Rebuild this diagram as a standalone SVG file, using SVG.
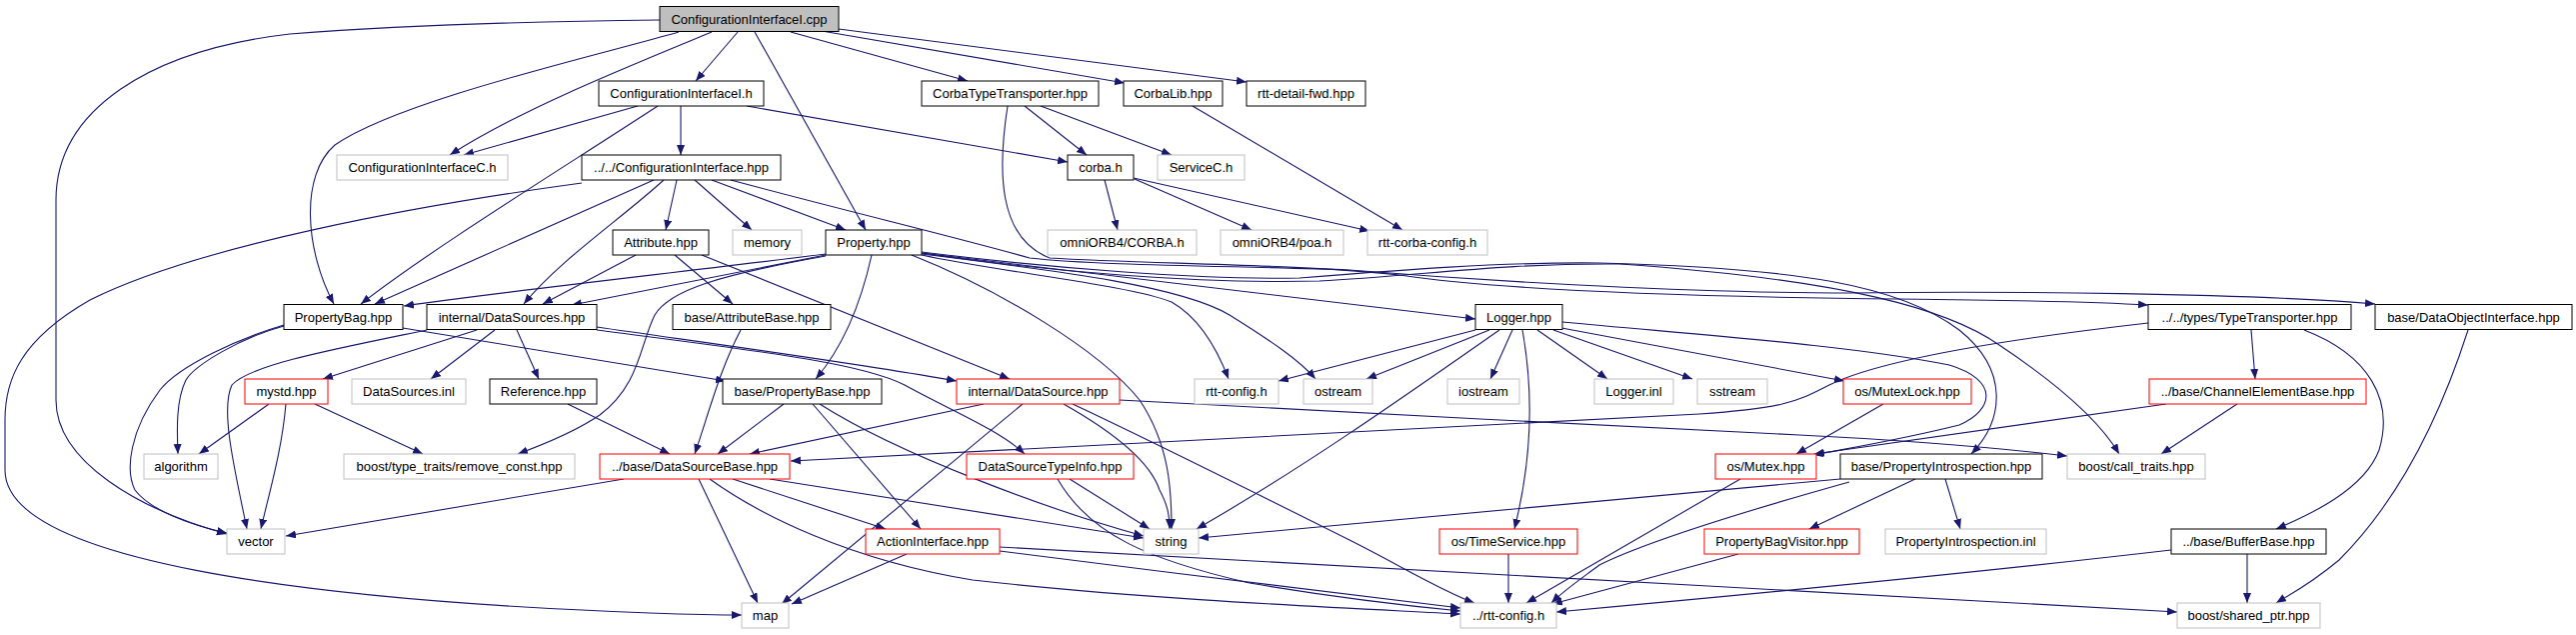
<svg xmlns="http://www.w3.org/2000/svg" width="2577" height="635" viewBox="0 0 2577 635">
<style>
rect{fill:#fff;stroke-width:1}
.n{stroke:#000}
.g{stroke:#bfbfbf}
.r{stroke:#ff0000}
.root{fill:#bfbfbf;stroke:#000}
text{font-family:"Liberation Sans",Arial,Helvetica,sans-serif;font-size:13px;fill:#000;text-anchor:middle}
.e{fill:none;stroke:#191970;stroke-width:1.1}
</style>
<defs>
<marker id="a" markerUnits="userSpaceOnUse" markerWidth="11" markerHeight="9" refX="10" refY="4" orient="auto">
<path d="M0,0 L10,4 L0,8 z" fill="#191970"/>
</marker>
</defs>
<g id="edges" marker-end="url(#a)">
<path class="e" marker-end="url(#a)" d="M660,20 C560,21 420,24 290,34 C150,50 56,110 56,200 L56,400 C56,462 140,510 227,534"/>
<path class="e" marker-end="url(#a)" d="M679,32 C600,55 400,100 335,145 C300,175 305,250 334,304"/>
<path class="e" marker-end="url(#a)" d="M712,32 C620,70 520,110 450,155"/>
<path class="e" marker-end="url(#a)" d="M738,32 L696,81"/>
<path class="e" marker-end="url(#a)" d="M755,32 L866,230"/>
<path class="e" marker-end="url(#a)" d="M791,32 L968,81"/>
<path class="e" marker-end="url(#a)" d="M822,31 L1125,83"/>
<path class="e" marker-end="url(#a)" d="M839,29 L1247,82"/>
<path class="e" marker-end="url(#a)" d="M638,106 L464,155"/>
<path class="e" marker-end="url(#a)" d="M658,106 C560,170 430,250 361,304"/>
<path class="e" marker-end="url(#a)" d="M681,106 L681,155"/>
<path class="e" marker-end="url(#a)" d="M747,106 L1068,162"/>
<path class="e" marker-end="url(#a)" d="M1025,106 L1087,155"/>
<path class="e" marker-end="url(#a)" d="M1041,106 L1172,155"/>
<path class="e" marker-end="url(#a)" d="M1008,106 C998,170 998,238 1050,258 C1150,264 1300,264 1400,275 C1500,290 1700,297 1900,299 C2000,300 2100,302 2149,305"/>
<path class="e" marker-end="url(#a)" d="M1193,106 L1403,230"/>
<path class="e" marker-end="url(#a)" d="M1105,180 L1118,230"/>
<path class="e" marker-end="url(#a)" d="M1135,179 L1252,230"/>
<path class="e" marker-end="url(#a)" d="M1134,178 L1370,231"/>
<path class="e" marker-end="url(#a)" d="M677,180 L666,230"/>
<path class="e" marker-end="url(#a)" d="M695,180 L752,230"/>
<path class="e" marker-end="url(#a)" d="M712,180 L846,230"/>
<path class="e" marker-end="url(#a)" d="M654,180 L375,304"/>
<path class="e" marker-end="url(#a)" d="M664,180 C620,220 560,260 524,304"/>
<path class="e" marker-end="url(#a)" d="M582,183 C420,205 200,245 90,300 C20,340 5,380 5,420 L5,470 C5,560 300,600 650,613 C680,614 710,615 742,615"/>
<path class="e" marker-end="url(#a)" d="M731,180 C850,212 960,238 1030,258 C1100,266 1250,266 1350,270 C1500,282 1700,293 1850,293 C2000,291 2250,293 2376,304"/>
<path class="e" marker-end="url(#a)" d="M636,255 L543,304"/>
<path class="e" marker-end="url(#a)" d="M675,255 L733,304"/>
<path class="e" marker-end="url(#a)" d="M702,255 L1010,379"/>
<path class="e" marker-end="url(#a)" d="M826,254 C700,270 500,292 404,306"/>
<path class="e" marker-end="url(#a)" d="M826,255 L572,305"/>
<path class="e" marker-end="url(#a)" d="M826,256 C720,275 670,290 655,315 C640,345 640,385 600,415 C575,432 545,444 518,454"/>
<path class="e" marker-end="url(#a)" d="M872,255 C862,300 845,345 816,379"/>
<path class="e" marker-end="url(#a)" d="M912,255 C1000,290 1100,350 1140,400 C1170,445 1172,490 1172,529"/>
<path class="e" marker-end="url(#a)" d="M922,255 C1000,272 1130,285 1172,302 C1200,318 1218,350 1229,379"/>
<path class="e" marker-end="url(#a)" d="M922,254 C1050,270 1180,285 1230,315 C1270,340 1300,360 1316,379"/>
<path class="e" marker-end="url(#a)" d="M922,253 L1476,319"/>
<path class="e" marker-end="url(#a)" d="M922,252 C1050,268 1200,280 1300,278 C1400,270 1500,262 1600,263 C1800,268 1900,285 1960,330 C2010,370 2005,420 1972,454"/>
<path class="e" marker-end="url(#a)" d="M922,253 C1050,272 1200,284 1320,281 C1420,276 1500,263 1620,264 C1850,280 1950,310 2000,345 C2060,385 2100,420 2120,454"/>
<path class="e" marker-end="url(#a)" d="M284,326 C240,338 195,365 186,380 C176,400 177,430 178,454"/>
<path class="e" marker-end="url(#a)" d="M284,325 C240,338 180,365 160,390 C130,430 125,470 135,490 C150,510 190,525 227,533"/>
<path class="e" marker-end="url(#a)" d="M403,328 L726,381"/>
<path class="e" marker-end="url(#a)" d="M427,330 C330,350 250,365 232,385 C220,410 235,470 247,529"/>
<path class="e" marker-end="url(#a)" d="M477,330 L323,379"/>
<path class="e" marker-end="url(#a)" d="M495,330 L431,379"/>
<path class="e" marker-end="url(#a)" d="M517,330 L539,379"/>
<path class="e" marker-end="url(#a)" d="M597,327 C700,342 850,362 957,381"/>
<path class="e" marker-end="url(#a)" d="M597,330 C750,350 860,362 905,385 C950,410 1000,430 1025,454"/>
<path class="e" marker-end="url(#a)" d="M741,330 C720,370 710,410 695,454"/>
<path class="e" marker-end="url(#a)" d="M269,404 L199,454"/>
<path class="e" marker-end="url(#a)" d="M286,404 C282,450 270,490 261,529"/>
<path class="e" marker-end="url(#a)" d="M315,404 L423,454"/>
<path class="e" marker-end="url(#a)" d="M568,404 L670,454"/>
<path class="e" marker-end="url(#a)" d="M784,404 L718,454"/>
<path class="e" marker-end="url(#a)" d="M813,404 L921,529"/>
<path class="e" marker-end="url(#a)" d="M820,404 C900,455 1050,510 1144,536"/>
<path class="e" marker-end="url(#a)" d="M984,404 L750,454"/>
<path class="e" marker-end="url(#a)" d="M1023,404 L782,604"/>
<path class="e" marker-end="url(#a)" d="M1064,404 C1110,430 1150,460 1160,490 C1168,505 1170,515 1170,529"/>
<path class="e" marker-end="url(#a)" d="M1073,404 C1150,440 1250,490 1350,540 C1400,565 1440,590 1475,603"/>
<path class="e" marker-end="url(#a)" d="M1120,400 C1300,410 1600,425 1800,435 C1900,440 2000,448 2068,456"/>
<path class="e" marker-end="url(#a)" d="M1070,479 L1150,529"/>
<path class="e" marker-end="url(#a)" d="M1058,479 C1090,535 1150,560 1250,583 C1350,600 1420,607 1461,611"/>
<path class="e" marker-end="url(#a)" d="M624,479 L286,536"/>
<path class="e" marker-end="url(#a)" d="M699,479 L758,603"/>
<path class="e" marker-end="url(#a)" d="M770,479 L1144,538"/>
<path class="e" marker-end="url(#a)" d="M733,479 L886,529"/>
<path class="e" marker-end="url(#a)" d="M710,479 C760,515 850,560 973,580 C1150,600 1350,608 1461,614"/>
<path class="e" marker-end="url(#a)" d="M907,554 L792,604"/>
<path class="e" marker-end="url(#a)" d="M1000,551 C1150,570 1350,595 1461,608"/>
<path class="e" marker-end="url(#a)" d="M1000,547 C1300,565 1800,590 2178,612"/>
<path class="e" marker-end="url(#a)" d="M1476,330 L1279,381"/>
<path class="e" marker-end="url(#a)" d="M1490,330 L1367,379"/>
<path class="e" marker-end="url(#a)" d="M1513,330 L1491,379"/>
<path class="e" marker-end="url(#a)" d="M1538,330 L1608,379"/>
<path class="e" marker-end="url(#a)" d="M1554,330 L1693,379"/>
<path class="e" marker-end="url(#a)" d="M1500,330 C1400,400 1300,470 1197,529"/>
<path class="e" marker-end="url(#a)" d="M1523,330 C1532,380 1535,450 1515,529"/>
<path class="e" marker-end="url(#a)" d="M1557,327 L1845,381"/>
<path class="e" marker-end="url(#a)" d="M1563,322 C1700,335 1850,345 1950,365 C2000,380 1995,410 1960,425 C1900,440 1850,448 1814,455"/>
<path class="e" marker-end="url(#a)" d="M1884,404 L1797,454"/>
<path class="e" marker-end="url(#a)" d="M2149,323 C2000,340 1880,360 1830,385 C1800,400 1790,408 1700,414 C1500,425 1100,445 791,461"/>
<path class="e" marker-end="url(#a)" d="M2252,330 L2256,379"/>
<path class="e" marker-end="url(#a)" d="M2305,330 C2370,355 2395,400 2380,450 C2365,490 2310,515 2277,529"/>
<path class="e" marker-end="url(#a)" d="M2167,404 L1815,454"/>
<path class="e" marker-end="url(#a)" d="M2238,404 L2162,454"/>
<path class="e" marker-end="url(#a)" d="M1841,479 L1199,538"/>
<path class="e" marker-end="url(#a)" d="M1850,482 C1750,510 1650,540 1600,565 C1580,580 1565,590 1552,603"/>
<path class="e" marker-end="url(#a)" d="M1916,479 L1810,529"/>
<path class="e" marker-end="url(#a)" d="M1946,479 L1961,529"/>
<path class="e" marker-end="url(#a)" d="M1741,479 L1527,603"/>
<path class="e" marker-end="url(#a)" d="M1739,554 L1553,604"/>
<path class="e" marker-end="url(#a)" d="M1509,554 L1509,603"/>
<path class="e" marker-end="url(#a)" d="M2172,550 C2000,570 1800,590 1557,612"/>
<path class="e" marker-end="url(#a)" d="M2248,554 L2248,603"/>
<path class="e" marker-end="url(#a)" d="M2469,330 C2440,420 2400,500 2340,560 C2310,585 2290,595 2277,603"/>
</g>
<g id="n1"><rect class="root" x="660" y="6.5" width="179" height="25"/><text x="749.5" y="23.5">ConfigurationInterfaceI.cpp</text></g>
<g id="n2"><rect class="n" x="599" y="81" width="165" height="25"/><text x="681.5" y="98">ConfigurationInterfaceI.h</text></g>
<g id="n3"><rect class="n" x="922" y="81" width="177" height="25"/><text x="1010.5" y="98">CorbaTypeTransporter.hpp</text></g>
<g id="n4"><rect class="n" x="1124" y="81" width="99" height="25"/><text x="1173.5" y="98">CorbaLib.hpp</text></g>
<g id="n5"><rect class="n" x="1247" y="81" width="119" height="25"/><text x="1306.5" y="98">rtt-detail-fwd.hpp</text></g>
<g id="n6"><rect class="g" x="337" y="155" width="171" height="25"/><text x="422.5" y="172">ConfigurationInterfaceC.h</text></g>
<g id="n7"><rect class="n" x="582" y="155" width="199" height="25"/><text x="681.5" y="172">../../ConfigurationInterface.hpp</text></g>
<g id="n8"><rect class="n" x="1068" y="155" width="66" height="25"/><text x="1101" y="172">corba.h</text></g>
<g id="n9"><rect class="g" x="1158" y="155" width="87" height="25"/><text x="1201.5" y="172">ServiceC.h</text></g>
<g id="n10"><rect class="n" x="613" y="230" width="96" height="25"/><text x="661" y="247">Attribute.hpp</text></g>
<g id="n11"><rect class="g" x="733" y="230" width="69" height="25"/><text x="767.5" y="247">memory</text></g>
<g id="n12"><rect class="n" x="826" y="230" width="96" height="25"/><text x="874" y="247">Property.hpp</text></g>
<g id="n13"><rect class="g" x="1048" y="230" width="149" height="25"/><text x="1122.5" y="247">omniORB4/CORBA.h</text></g>
<g id="n14"><rect class="g" x="1221" y="230" width="123" height="25"/><text x="1282.5" y="247">omniORB4/poa.h</text></g>
<g id="n15"><rect class="g" x="1368" y="230" width="120" height="25"/><text x="1428" y="247">rtt-corba-config.h</text></g>
<g id="n16"><rect class="n" x="284" y="304.5" width="119" height="25"/><text x="343.5" y="321.5">PropertyBag.hpp</text></g>
<g id="n17"><rect class="n" x="427" y="304.5" width="170" height="25"/><text x="512" y="321.5">internal/DataSources.hpp</text></g>
<g id="n18"><rect class="n" x="673" y="304.5" width="158" height="25"/><text x="752" y="321.5">base/AttributeBase.hpp</text></g>
<g id="n19"><rect class="n" x="1476" y="304.5" width="87" height="25"/><text x="1519.5" y="321.5">Logger.hpp</text></g>
<g id="n20"><rect class="n" x="2149" y="304.5" width="203" height="25"/><text x="2250.5" y="321.5">../../types/TypeTransporter.hpp</text></g>
<g id="n21"><rect class="n" x="2376" y="304.5" width="197" height="25"/><text x="2474.5" y="321.5">base/DataObjectInterface.hpp</text></g>
<g id="n22"><rect class="r" x="245" y="379" width="83" height="25"/><text x="286.5" y="396">mystd.hpp</text></g>
<g id="n23"><rect class="g" x="352" y="379" width="114" height="25"/><text x="409" y="396">DataSources.inl</text></g>
<g id="n24"><rect class="n" x="490" y="379" width="107" height="25"/><text x="543.5" y="396">Reference.hpp</text></g>
<g id="n25"><rect class="n" x="723" y="379" width="159" height="25"/><text x="802.5" y="396">base/PropertyBase.hpp</text></g>
<g id="n26"><rect class="r" x="957" y="379" width="163" height="25"/><text x="1038.5" y="396">internal/DataSource.hpp</text></g>
<g id="n27"><rect class="g" x="1195" y="379" width="84" height="25"/><text x="1237" y="396">rtt-config.h</text></g>
<g id="n28"><rect class="g" x="1304" y="379" width="69" height="25"/><text x="1338.5" y="396">ostream</text></g>
<g id="n29"><rect class="g" x="1448" y="379" width="72" height="25"/><text x="1484" y="396">iostream</text></g>
<g id="n30"><rect class="g" x="1595" y="379" width="79" height="25"/><text x="1634.5" y="396">Logger.inl</text></g>
<g id="n31"><rect class="g" x="1698" y="379" width="70" height="25"/><text x="1733" y="396">sstream</text></g>
<g id="n32"><rect class="r" x="1844" y="379" width="128" height="25"/><text x="1908" y="396">os/MutexLock.hpp</text></g>
<g id="n33"><rect class="r" x="2150" y="379" width="217" height="25"/><text x="2258.5" y="396">../base/ChannelElementBase.hpp</text></g>
<g id="n34"><rect class="g" x="144" y="454" width="74" height="25"/><text x="181" y="471">algorithm</text></g>
<g id="n35"><rect class="g" x="344" y="454" width="231" height="25"/><text x="459.5" y="471">boost/type_traits/remove_const.hpp</text></g>
<g id="n36"><rect class="r" x="600" y="454" width="190" height="25"/><text x="695" y="471">../base/DataSourceBase.hpp</text></g>
<g id="n37"><rect class="r" x="967" y="454" width="167" height="25"/><text x="1050.5" y="471">DataSourceTypeInfo.hpp</text></g>
<g id="n38"><rect class="r" x="1716" y="454" width="101" height="25"/><text x="1766.5" y="471">os/Mutex.hpp</text></g>
<g id="n39"><rect class="n" x="1841" y="454" width="202" height="25"/><text x="1942" y="471">base/PropertyIntrospection.hpp</text></g>
<g id="n40"><rect class="g" x="2068" y="454" width="138" height="25"/><text x="2137" y="471">boost/call_traits.hpp</text></g>
<g id="n41"><rect class="g" x="227" y="529" width="58" height="25"/><text x="256" y="546">vector</text></g>
<g id="n42"><rect class="r" x="866" y="529" width="134" height="25"/><text x="933" y="546">ActionInterface.hpp</text></g>
<g id="n43"><rect class="g" x="1144" y="529" width="55" height="25"/><text x="1171.5" y="546">string</text></g>
<g id="n44"><rect class="r" x="1440" y="529" width="138" height="25"/><text x="1509" y="546">os/TimeService.hpp</text></g>
<g id="n45"><rect class="r" x="1705" y="529" width="155" height="25"/><text x="1782.5" y="546">PropertyBagVisitor.hpp</text></g>
<g id="n46"><rect class="g" x="1886" y="529" width="161" height="25"/><text x="1966.5" y="546">PropertyIntrospection.inl</text></g>
<g id="n47"><rect class="n" x="2172" y="529" width="155" height="25"/><text x="2249.5" y="546">../base/BufferBase.hpp</text></g>
<g id="n48"><rect class="g" x="742" y="603" width="47" height="25"/><text x="765.5" y="620">map</text></g>
<g id="n49"><rect class="g" x="1461" y="603" width="96" height="25"/><text x="1509" y="620">../rtt-config.h</text></g>
<g id="n50"><rect class="g" x="2178" y="603" width="143" height="25"/><text x="2249.5" y="620">boost/shared_ptr.hpp</text></g>
</svg>
